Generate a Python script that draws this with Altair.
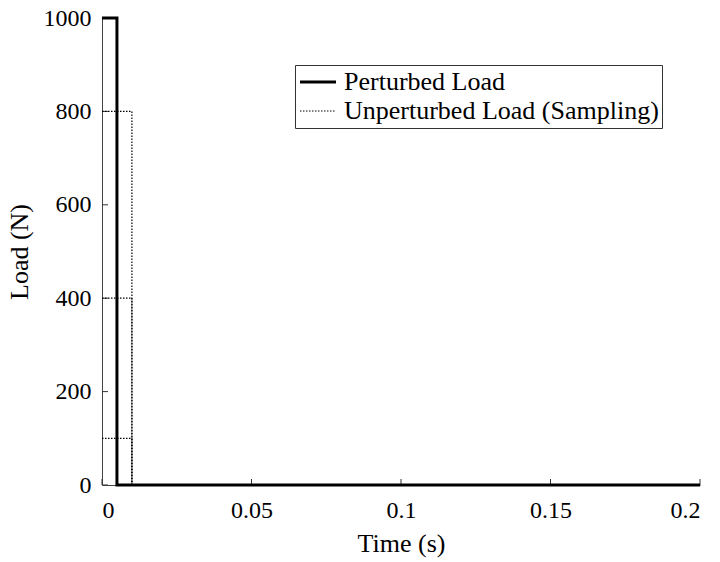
import altair as alt
import pandas as pd

# Perturbed load: rectangular pulse
pert_time = [0.0, 0.005, 0.005, 0.2]
pert_load = [1000, 1000, 0, 0]

# Unperturbed sampled loads: pulses of duration samp_width at each level
samp_levels = [800, 400, 100]
samp_width = 0.01
samp_end = 0.2

series_names = ["Perturbed Load", "Unperturbed Load (Sampling)"]
y_ticks = [0, 200, 400, 600, 800, 1000]
x_ticks = [0, 0.05, 0.1, 0.15, 0.2]

rows = []
for i, (t, l) in enumerate(zip(pert_time, pert_load)):
    rows.append({"series": series_names[0], "seg": "p", "idx": i, "time": t, "load": l})
for k, lev in enumerate(samp_levels):
    pts = [(0.0, lev), (samp_width, lev), (samp_width, 0)]
    if k == 0:
        pts.append((samp_end, 0))
    for i, (t, l) in enumerate(pts):
        rows.append({"series": series_names[1], "seg": f"s{k}", "idx": i, "time": t, "load": l})
df = pd.DataFrame(rows)

W, H = 598, 467
FONT = "Liberation Serif"

legend = alt.Legend(
    title=None, orient="none", legendX=193, legendY=47,
    strokeColor="#333", fillColor="white", padding=3,
    labelFont=FONT, labelFontSize=26, labelColor="black", labelLimit=600,
    symbolType="stroke", symbolSize=1300, clipHeight=28, labelOffset=6, rowPadding=1,
    cornerRadius=0,
)

lines = alt.Chart(df).mark_line(interpolate="linear").encode(
    x=alt.X("time:Q", scale=alt.Scale(domain=[0, 0.2], nice=False),
            axis=alt.Axis(values=x_ticks, format="~g", title="Time (s)", ticks=False,
                          labelPadding=13, titlePadding=8)),
    y=alt.Y("load:Q", scale=alt.Scale(domain=[0, 1000], nice=False),
            axis=alt.Axis(values=y_ticks, format="d", title="Load (N)", ticks=False,
                          labelPadding=11, titlePadding=11)),
    detail="seg:N",
    order="idx:Q",
    color=alt.Color("series:N", scale=alt.Scale(domain=series_names, range=["black", "black"]), legend=legend),
    strokeDash=alt.StrokeDash("series:N", scale=alt.Scale(domain=series_names, range=[[1, 0], [1.5, 1.5]]), legend=legend),
    strokeWidth=alt.StrokeWidth("series:N", scale=alt.Scale(domain=series_names, range=[3, 1.2]), legend=legend),
)

ytick_df = pd.DataFrame({"v": y_ticks})
xtick_df = pd.DataFrame({"v": x_ticks})
yticks = alt.Chart(ytick_df).mark_rule(color="#333", strokeWidth=1).encode(
    y="v:Q", x=alt.value(0), x2=alt.value(6))
xticks = alt.Chart(xtick_df).mark_rule(color="#333", strokeWidth=1).encode(
    x="v:Q", y=alt.value(H), y2=alt.value(H - 6))

chart = alt.layer(yticks, xticks, lines).properties(
    width=W, height=H,
    background="white",
    autosize=alt.AutoSizeParams(type="none"),
    padding={"left": 102, "top": 18, "right": 20, "bottom": 77},
).configure_view(stroke=None).configure_axis(
    grid=False, domainColor="#444", domainWidth=1,
    labelFont=FONT, labelFontSize=24, labelColor="black",
    titleFont=FONT, titleFontSize=26, titleFontWeight="normal", titleColor="black",
)

chart.save("out.html", embed_options={"renderer": "svg", "actions": False})
